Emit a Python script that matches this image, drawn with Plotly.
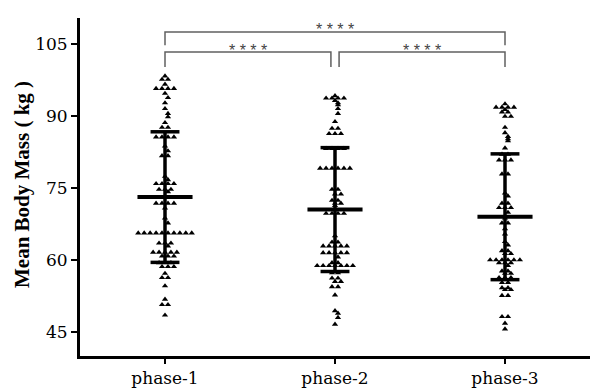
import plotly.graph_objects as go

categories = ["phase-1", "phase-2", "phase-3"]

phase1 = [98.3, 97.6, 97.6, 96.6, 95.7, 95.7, 95.7, 95.7, 94.7, 93.8, 92.7, 91.5,
          90.5, 89.8, 88.6, 87.6, 87.6, 85.6, 85.6, 85.6, 85.6, 83.7, 82.7, 81.7,
          81.7, 77.4, 76.7, 75.9, 75.9, 75.9, 75.9, 74.7, 74.7, 74.7, 74.2, 71.8,
          71.8, 71.8, 71.8, 70.8, 68.7, 67.7] + [65.6] * 10 + [
          63.5, 63.5, 63.5, 62.9, 61.6, 61.6, 61.6, 61.6, 61.6, 60.8, 60.8, 60.8,
          59.4, 59.4, 59.4, 58.6, 58.6, 58.6, 57.2, 56.3, 56.3, 54.6, 51.8, 50.7,
          50.7, 48.5]

phase2 = [94.2, 93.7, 93.7, 93.7, 93.7, 93.2, 92.7, 92.3, 91.5, 90.5, 88.8, 87.4,
          87.4, 86.3, 86.3, 86.3, 83.2, 83.2, 83.2, 83.2, 79.1, 79.1, 79.1, 79.1,
          79.1, 79.1, 74.7, 74.7, 73.7, 73.7, 72.4, 72.4, 71.8, 71.8, 71.3, 69.7,
          69.7, 69.7, 69.7, 65.0, 63.7, 63.7, 62.9, 62.9, 62.9, 62.9, 62.9, 61.5,
          61.5, 61.5, 61.5, 61.5, 60.6, 59.4, 59.4, 58.8, 58.8, 58.8, 58.8, 58.8,
          58.8, 58.8, 57.3, 57.3, 56.2, 56.2, 55.5, 55.5, 54.4, 54.4, 52.7, 49.4,
          48.9, 48.0, 46.6]

phase3 = [92.5, 91.8, 91.8, 91.8, 91.8, 91.3, 90.8, 90.8, 89.9, 89.9, 87.6, 86.5,
          85.7, 85.2, 84.8, 83.3, 82.0, 82.0, 80.8, 80.8, 80.8, 77.9, 77.9, 73.9,
          73.3, 71.8, 71.8, 70.9, 70.9, 70.9, 69.9, 68.7, 67.7, 67.7, 66.5, 65.4,
          63.8, 63.1, 61.9, 61.9, 61.3, 61.3, 60.0, 60.0, 60.0, 60.0, 60.0, 60.0,
          59.4, 59.4, 59.4, 58.8, 57.7, 57.7, 57.2, 57.2, 56.3, 56.3, 56.3, 55.3,
          55.3, 54.2, 54.2, 53.8, 53.8, 52.6, 52.6, 48.2, 48.2, 46.8, 45.6]

means = [73.1, 70.5, 69.0]
sds = [13.6, 12.9, 13.1]

comparisons = [(0, 1), (1, 2), (0, 2)]
comparison_labels = ["****", "****", "****"]

yticks = [45, 60, 75, 90, 105]
y_title = "Mean Body Mass ( kg )"

# ---- layout helpers (styles / geometry) ----
STEP = 0.035      # horizontal spacing between points in a row (category units)
SERIF = "DejaVu Serif"


def swarm_offsets(values):
    """Prism-like row scatter: equal values share a row, spread symmetrically."""
    rows = {}
    order = []
    for v in values:
        if v not in rows:
            rows[v] = 0
            order.append(v)
        rows[v] += 1
    xs, ys = [], []
    prev_v, prev_n = None, None
    for v in sorted(order, reverse=True):
        n = rows[v]
        shift = 0.0
        if prev_v is not None and abs(prev_v - v) < 1.05 and (prev_n % 2) == (n % 2):
            shift = STEP / 2
        for i in range(n):
            xs.append((i - (n - 1) / 2) * STEP + shift)
            ys.append(v)
        prev_v, prev_n = v, n
    return xs, ys


fig = go.Figure()

for ci, vals in enumerate([phase1, phase2, phase3]):
    dx, yy = swarm_offsets(vals)
    fig.add_trace(go.Scatter(
        x=[ci + d for d in dx], y=yy, mode="markers",
        marker=dict(symbol="triangle-up", size=5.5, color="black", line=dict(width=0)),
        showlegend=False, hoverinfo="y"))

# mean and SD bars
for ci, (m, s) in enumerate(zip(means, sds)):
    fig.add_trace(go.Scatter(x=[ci - 0.162, ci + 0.162], y=[m, m], mode="lines",
                             line=dict(color="black", width=4), showlegend=False))
    fig.add_trace(go.Scatter(x=[ci, ci], y=[m - s, m + s], mode="lines",
                             line=dict(color="black", width=3.5), showlegend=False))
    for yv in (m - s, m + s):
        fig.add_trace(go.Scatter(x=[ci - 0.085, ci + 0.085], y=[yv, yv], mode="lines",
                                 line=dict(color="black", width=3.5), showlegend=False))

# significance brackets
shapes = []
annotations = []
for (a, b), lab in zip(comparisons, comparison_labels):
    if b - a == 1:
        top, leg = 103.3, 100.2
        x0 = a + (0.024 if a > 0 else 0)
        x1 = b - (0.024 if b < 2 else 0)
        ty = 103.6
    else:
        top, leg = 107.5, 104.7
        x0, x1 = a, b
        ty = 108.1
    shapes.append(dict(type="path", xref="x", yref="y",
                       path=f"M {x0},{leg} L {x0},{top} L {x1},{top} L {x1},{leg}",
                       line=dict(color="#606060", width=1.5)))
    annotations.append(dict(x=(x0 + x1) / 2, y=ty, xref="x", yref="y",
                            text=" ".join(lab), showarrow=False, yanchor="middle",
                            font=dict(family="Liberation Sans", size=16, color="#444444")))

# y-axis title placed as a rotated annotation
annotations.append(dict(x=-58 / 510, y=0.506, xref="paper", yref="paper",
                        text=f"<b>{y_title}</b>", textangle=-90, showarrow=False,
                        xanchor="center", yanchor="middle",
                        font=dict(family="Liberation Serif", size=21, color="black")))

fig.update_layout(
    width=600, height=392,
    margin=dict(l=80, r=10, t=18, b=36),
    plot_bgcolor="white", paper_bgcolor="white",
    shapes=shapes, annotations=annotations,
    xaxis=dict(range=[-0.5, 2.5], tickvals=[0, 1, 2], ticktext=categories,
               automargin=False,
               showline=True, linecolor="black", linewidth=3, showgrid=False,
               zeroline=False, ticks="outside", ticklen=5, tickwidth=2, tickcolor="black",
               tickfont=dict(family=SERIF, size=17, color="black")),
    yaxis=dict(range=[40, 110.4], tickvals=yticks, automargin=False,
               showline=True, linecolor="black", linewidth=3, showgrid=False,
               zeroline=False, ticks="outside", ticklen=6, tickwidth=2, tickcolor="black",
               tickfont=dict(family=SERIF, size=17, color="black")),
)

fig.write_html("out.html", config={"displayModeBar": False})

# remove the browser's default 8px body margin so the figure fills the window
with open("out.html", "r", encoding="utf-8") as f:
    html = f.read()
html = html.replace("<head>", "<head><style>html,body{margin:0;padding:0;}</style>", 1)
with open("out.html", "w", encoding="utf-8") as f:
    f.write(html)
